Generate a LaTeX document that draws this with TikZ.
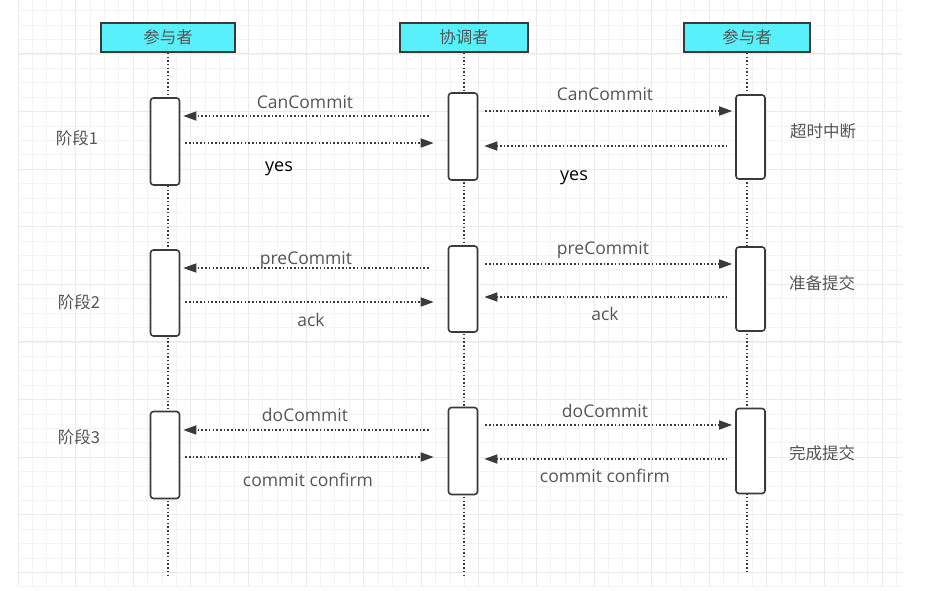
\documentclass[tikz,border=0pt]{standalone}
\usepackage{fontspec}
\setmainfont{Open Sans}
\newfontfamily\cjk{Noto Sans CJK SC}
\usetikzlibrary{arrows.meta}
\definecolor{hdrcyan}{HTML}{58F0FA}
\definecolor{linegray}{HTML}{3A3A3A}
\definecolor{txtgray}{HTML}{555555}
\definecolor{gridminor}{HTML}{F3F3F3}
\definecolor{gridmajor}{HTML}{EAEAEA}
\tikzset{
  hdr/.style={draw=linegray, line width=1.6pt, fill=hdrcyan, minimum height=29pt, inner sep=0pt, font=\cjk\fontsize{16.5}{17}\selectfont, text=txtgray},
  actbox/.style={draw=linegray, line width=1.6pt, fill=white, rounded corners=3pt, minimum width=29pt, inner sep=0pt},
  lifeline/.style={linegray, line width=1.4pt, dash pattern=on 1.4pt off 2.3pt},
  msg/.style={linegray, line width=1.6pt, dash pattern=on 1.6pt off 2.1pt, -{Triangle[length=13pt,width=9pt]}},
  lbl/.style={text=txtgray, font=\fontsize{17.5}{19}\selectfont, inner sep=0pt},
  yeslbl/.style={text=black, font=\fontsize{18}{20}\selectfont, inner sep=0pt},
  cjklbl/.style={text=txtgray, font=\cjk\fontsize{16.5}{18}\selectfont, inner sep=0pt},
}
\begin{document}
\begin{tikzpicture}[x=1pt,y=-1pt]
\useasboundingbox (0,0) rectangle (929,590);
\fill[white] (0,0) rectangle (929,590);
% grid
\begin{scope}
\clip (18,0) rectangle (902,586);
\foreach \i in {0,...,61} {\draw[gridminor, line width=0.8pt] ({18+14.4*\i},0) -- ++(0,586);}
\foreach \j in {0,...,40} {\draw[gridminor, line width=0.8pt] (18,{10.7+14.4*\j}) -- ++(884,0);}
\foreach \i in {0,...,15} {\draw[gridmajor, line width=0.9pt] ({18+57.6*\i},0) -- ++(0,586);}
\foreach \j in {0,...,10} {\draw[gridmajor, line width=0.9pt] (18,{-3.7+57.6*\j}) -- ++(884,0);}
\end{scope}
% headers
\node[hdr, minimum width=134pt] (h1) at (168,37.5) {参与者};
\node[hdr, minimum width=128pt] (h2) at (464,37.5) {协调者};
\node[hdr, minimum width=126pt] (h3) at (747,37.5) {参与者};
% lifeline ends
\coordinate (e1) at (168,576);
\coordinate (e2) at (464,576);
\coordinate (e3) at (747,572);
\draw[lifeline] (h1.south) -- (e1);
\draw[lifeline] (h2.south) -- (e2);
\draw[lifeline] (h3.south) -- (e3);
% activation boxes
\node[actbox, minimum height=87pt] (l1) at (165,141.5) {};
\node[actbox, minimum height=87pt] (m1) at (463,136.5) {};
\node[actbox, minimum height=84pt] (r1) at (750.5,137) {};
\node[actbox, minimum height=86pt] (l2) at (165,293) {};
\node[actbox, minimum height=86pt] (m2) at (463,289) {};
\node[actbox, minimum height=84pt] (r2) at (750.5,289) {};
\node[actbox, minimum height=87pt] (l3) at (165,455) {};
\node[actbox, minimum height=87pt] (m3) at (463,451) {};
\node[actbox, minimum height=85pt] (r3) at (750.5,451) {};
% phase 1
\draw[msg, shorten <=19pt, shorten >=3pt] (m1.west |- 0,116) -- (l1.east |- 0,116);
\draw[msg, shorten <=5pt, shorten >=14pt] (l1.east |- 0,143) -- (m1.west |- 0,143);
\draw[msg, shorten <=7pt, shorten >=3pt] (m1.east |- 0,111) -- (r1.west |- 0,111);
\draw[msg, shorten <=8pt, shorten >=6pt] (r1.west |- 0,146) -- (m1.east |- 0,146);
\node[lbl] (t1) at (305,102) {CanCommit};
\node[yeslbl] (t2) at (279,169) {yes};
\node[lbl] (t3) at (605,94) {CanCommit};
\node[yeslbl] (t4) at (574,178) {yes};
% phase 2
\draw[msg, shorten <=19pt, shorten >=3pt] (m2.west |- 0,268) -- (l2.east |- 0,268);
\draw[msg, shorten <=5pt, shorten >=14pt] (l2.east |- 0,302) -- (m2.west |- 0,302);
\draw[msg, shorten <=7pt, shorten >=3pt] (m2.east |- 0,264) -- (r2.west |- 0,264);
\draw[msg, shorten <=8pt, shorten >=6pt] (r2.west |- 0,297) -- (m2.east |- 0,297);
\node[lbl] (t5) at (306,260) {preCommit};
\node[lbl] (t6) at (311,320) {ack};
\node[lbl] (t7) at (603,250) {preCommit};
\node[lbl] (t8) at (605,314) {ack};
% phase 3
\draw[msg, shorten <=19pt, shorten >=3pt] (m3.west |- 0,430) -- (l3.east |- 0,430);
\draw[msg, shorten <=5pt, shorten >=14pt] (l3.east |- 0,457) -- (m3.west |- 0,457);
\draw[msg, shorten <=7pt, shorten >=3pt] (m3.east |- 0,425) -- (r3.west |- 0,425);
\draw[msg, shorten <=8pt, shorten >=6pt] (r3.west |- 0,459) -- (m3.east |- 0,459);
\node[lbl] (t9) at (305,415) {doCommit};
\node[lbl] (t10) at (308,480) {commit confirm};
\node[lbl] (t11) at (605,411) {doCommit};
\node[lbl] (t12) at (605,476) {commit confirm};
% side labels
\node[cjklbl] (p1) at (77,138) {阶段1};
\node[cjklbl] (p2) at (79,302) {阶段2};
\node[cjklbl] (p3) at (79,437) {阶段3};
\node[cjklbl] (s1) at (823,131) {超时中断};
\node[cjklbl] (s2) at (822,283) {准备提交};
\node[cjklbl] (s3) at (822,453) {完成提交};
\end{tikzpicture}
\end{document}
